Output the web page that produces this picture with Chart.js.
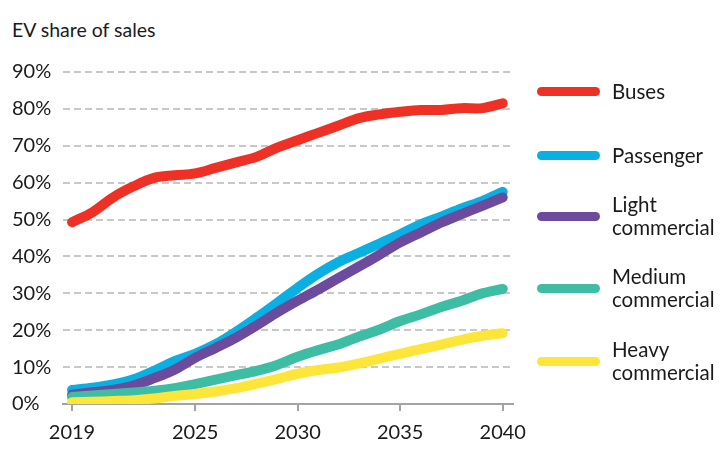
<!DOCTYPE html>
<html>
<head>
<meta charset="utf-8">
<script src="https://cdn.jsdelivr.net/npm/chart.js@4.4.1/dist/chart.umd.min.js"></script>
<style>
    html, body { margin: 0; padding: 0; background: #fff; }
    body {
        width: 728px; height: 462px; position: relative; overflow: hidden;
        font-family: Lato, "Noto Sans", sans-serif; color: #1a1a1a;
    }
    #title { position: absolute; left: 12px; top: 19px; font-size: 19.5px; line-height: 22px; }
    #chartBox { position: absolute; left: 0; top: 0; width: 728px; height: 462px; }
    #legend .item { position: absolute; left: 537px; display: flex; align-items: center; }
    #legend .swatch { width: 63px; height: 9px; border-radius: 5px; margin-right: 12px; flex: none; }
    #legend .label { font-size: 20.5px; line-height: 23px; width: 115px; }
</style>
</head>
<body>
<div id="title">EV share of sales</div>
<div id="chartBox"><canvas id="evChart"></canvas></div>
<div id="legend"></div>

<script>
// --- data ---
const years = [2019, 2020, 2021, 2022, 2023, 2024, 2025, 2026, 2027, 2028, 2029,
               2030, 2031, 2032, 2033, 2034, 2035, 2036, 2037, 2038, 2039, 2040];
const xTickYears = [2019, 2025, 2030, 2035, 2040];

const seriesNames = ['Buses', 'Passenger', 'Light commercial', 'Medium commercial', 'Heavy commercial'];
const seriesColors = ['#ee3124', '#0bb0e2', '#6c4b9f', '#3dbea4', '#fde53a'];

const buses = [49.3, 52, 56, 59, 61.3, 62, 62.5, 64, 65.5, 67, 69.5,
               71.5, 73.5, 75.5, 77.5, 78.5, 79.2, 79.7, 79.7, 80.2, 80.2, 81.5];
const passenger = [3.8, 4.4, 5.3, 6.7, 9.0, 11.6, 13.6, 16.2, 19.6, 23.4, 27.4,
                   31.5, 35.3, 38.5, 41.0, 43.5, 46, 48.7, 50.8, 53, 55, 57.5];
const lightCommercial = [2.5, 3.2, 3.8, 5.0, 7.0, 9.3, 12.5, 15.2, 18.0, 21.3, 24.8,
                         28.0, 31.0, 34.2, 37.3, 40.5, 43.8, 46.5, 49.2, 51.5, 53.7, 56.0];
const mediumCommercial = [1.9, 2.3, 2.7, 3.1, 3.6, 4.3, 5.4, 6.6, 7.8, 9.0, 10.6,
                          12.8, 14.6, 16.2, 18.3, 20.2, 22.5, 24.3, 26.3, 28.0, 30.0, 31.2];
const heavyCommercial = [0.5, 0.6, 0.8, 1.0, 1.5, 2.2, 2.7, 3.4, 4.3, 5.5, 6.8,
                         8.2, 9.2, 9.9, 11.0, 12.3, 13.6, 14.9, 16.1, 17.4, 18.5, 19.2];

const seriesValues = [buses, passenger, lightCommercial, mediumCommercial, heavyCommercial];

// legend vertical centres (layout only)
const legendCenters = [91, 155, 216, 288, 361];

// --- legend ---
const legendEl = document.getElementById('legend');
seriesNames.forEach((name, i) => {
    const item = document.createElement('div');
    item.className = 'item';
    const sw = document.createElement('div');
    sw.className = 'swatch';
    sw.style.background = seriesColors[i];
    const lb = document.createElement('div');
    lb.className = 'label';
    lb.textContent = name;
    item.appendChild(sw);
    item.appendChild(lb);
    legendEl.appendChild(item);
    item.style.top = (legendCenters[i] - item.offsetHeight / 2) + 'px';
});

// --- chart ---
const gridGrey = '#c8c8c8';
const axisGrey = '#a3a3a3';
const textColor = '#1a1a1a';

new Chart(document.getElementById('evChart'), {
    type: 'line',
    data: {
        datasets: seriesNames.map((name, i) => ({
            label: name,
            data: years.map((y, j) => ({ x: y, y: seriesValues[i][j] })),
            borderColor: seriesColors[i],
            backgroundColor: seriesColors[i],
            borderWidth: 10,
            borderCapStyle: 'round',
            borderJoinStyle: 'round',
            pointRadius: 0,
            tension: 0.35,
            fill: false,
            order: seriesNames.length - i
        }))
    },
    options: {
        responsive: true,
        maintainAspectRatio: false,
        animation: false,
        layout: { padding: { left: 12, right: 215, top: 72, bottom: 0 } },
        plugins: {
            legend: { display: false },
            tooltip: { enabled: false }
        },
        scales: {
            x: {
                type: 'linear',
                min: 2018.56,
                max: 2040.5,
                afterBuildTicks: (scale) => {
                    scale.ticks = xTickYears.map(v => ({ value: v }));
                },
                afterFit: (scale) => { scale.height = 58; },
                ticks: {
                    callback: (v) => String(v),
                    font: { family: 'Lato', size: 20 },
                    color: textColor,
                    padding: 10,
                    maxRotation: 0
                },
                grid: {
                    drawOnChartArea: false,
                    drawTicks: true,
                    tickLength: 7,
                    color: axisGrey,
                    lineWidth: 2
                },
                border: { display: true, color: axisGrey, width: 2 }
            },
            y: {
                min: 0,
                max: 90,
                afterFit: (scale) => { scale.width = 51; },
                ticks: {
                    stepSize: 10,
                    callback: (v) => v + '%',
                    font: { family: 'Lato', size: 20 },
                    color: textColor,
                    crossAlign: 'far',
                    padding: 0
                },
                grid: {
                    color: (ctx) => (ctx.tick && ctx.tick.value === 0) ? 'rgba(0,0,0,0)' : gridGrey,
                    lineWidth: 2,
                    drawTicks: false
                },
                border: { display: false, dash: [7, 4] }
            }
        }
    }
});
</script>
</body>
</html>
